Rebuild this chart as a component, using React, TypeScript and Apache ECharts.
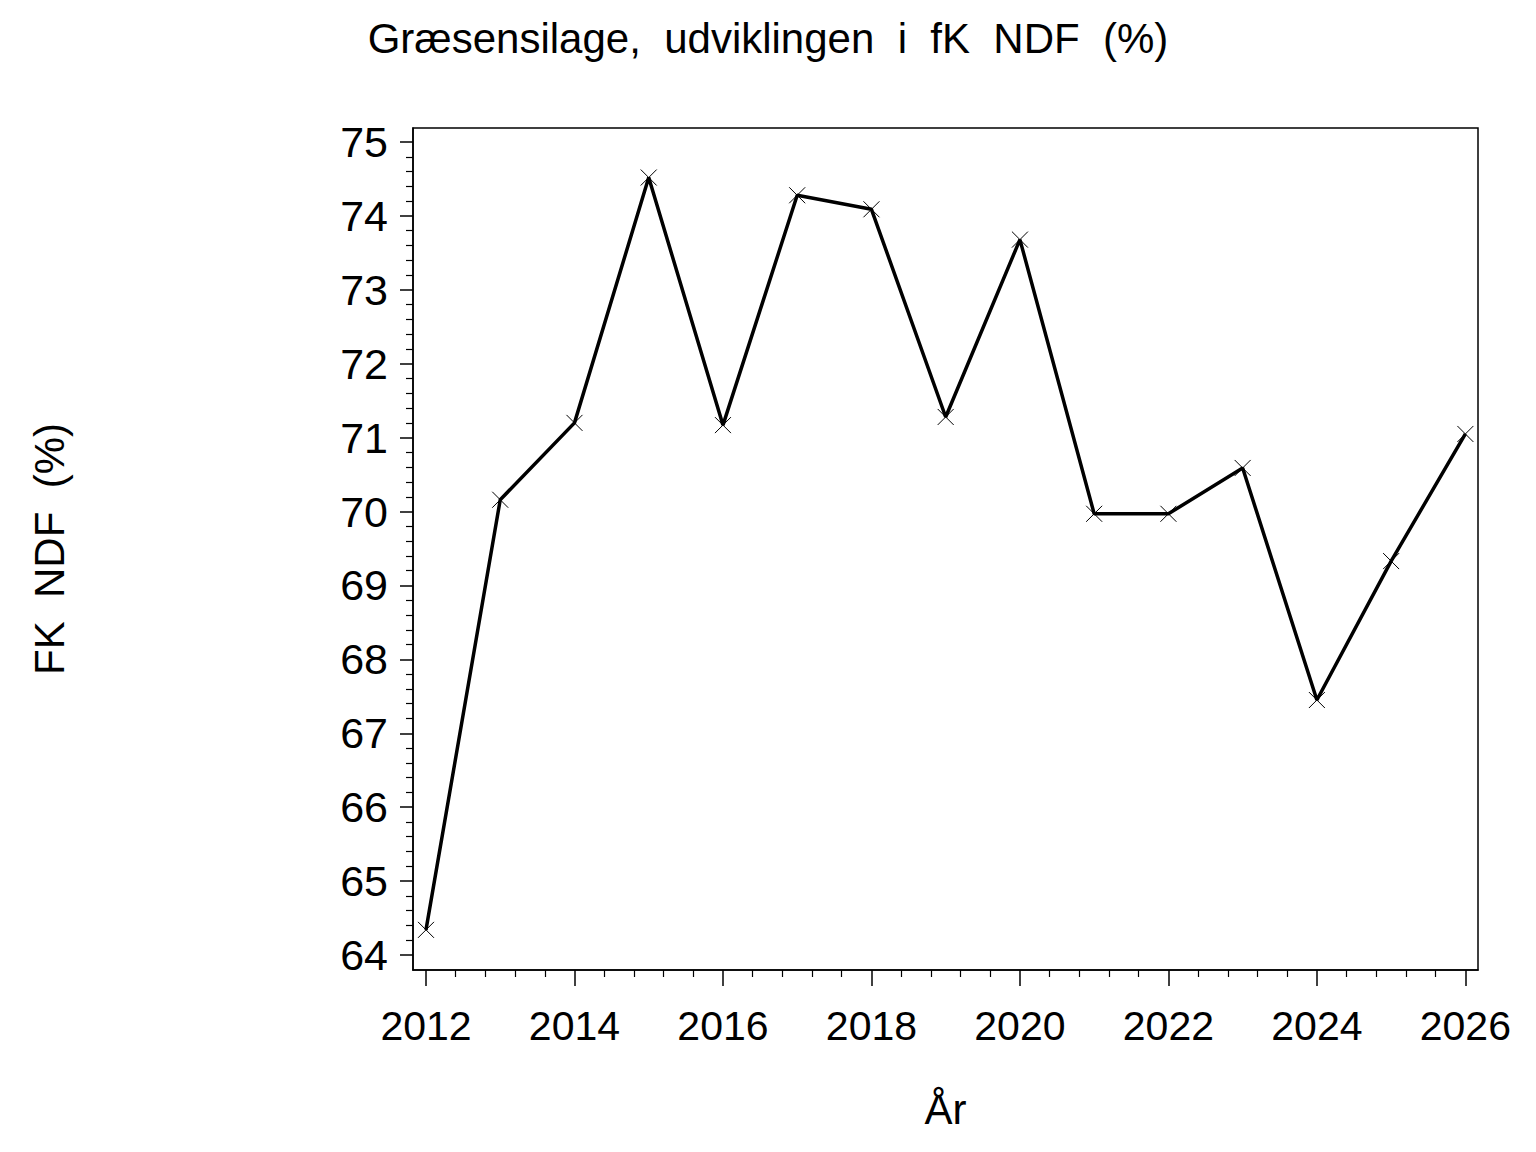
import React, { useEffect, useRef } from "react";
import * as echarts from "echarts";

const years = [2012, 2013, 2014, 2015, 2016, 2017, 2018, 2019, 2020, 2021, 2022, 2023, 2024, 2025, 2026];
const ndf = [64.34, 70.16, 71.2, 74.52, 71.17, 74.28, 74.09, 71.28, 73.68, 69.97, 69.97, 70.59, 67.45, 69.33, 71.05];
const xMajorTicks = [2012, 2014, 2016, 2018, 2020, 2022, 2024, 2026];
const yMajorTicks = [64, 65, 66, 67, 68, 69, 70, 71, 72, 73, 74, 75];

const titleText = "Græsensilage,  udviklingen  i  fK  NDF  (%)";
const yName = "FK  NDF  (%)";
const xName = "År";

function minorBetween(ticks: number[], parts: number): number[] {
  const out: number[] = [];
  for (let i = 0; i < ticks.length - 1; i++) {
    const step = (ticks[i + 1] - ticks[i]) / parts;
    for (let k = 1; k < parts; k++) out.push(+(ticks[i] + k * step).toFixed(4));
  }
  return out;
}

export default function App() {
  const ref = useRef<HTMLDivElement>(null);
  useEffect(() => {
    document.body.style.margin = "0";
    const chart = echarts.init(ref.current!, null, { renderer: "svg" });
    const font = "Liberation Sans, Arial, sans-serif";
    const xMin = 2011.825, xMax = 2026.17;
    const yMin = 63.797, yMax = 75.19;
    const xMinor = minorBetween(xMajorTicks, 5);
    const yMinor = minorBetween(yMajorTicks, 5);
    chart.setOption({
      animation: false,
      backgroundColor: "#fff",
      title: {
        text: titleText,
        left: "center",
        top: 12,
        textStyle: { fontFamily: font, fontSize: 42, fontWeight: "normal", color: "#000" },
      },
      grid: {
        left: 413, top: 128, width: 1065, height: 842,
        show: true, borderColor: "#000", borderWidth: 1.5, backgroundColor: "transparent",
      },
      xAxis: [
        {
          type: "value", min: xMin, max: xMax,
          name: xName, nameLocation: "middle", nameGap: 118,
          nameTextStyle: { fontFamily: font, fontSize: 42, color: "#000" },
          axisLine: { show: true, onZero: false, lineStyle: { color: "#000", width: 1.5 } },
          axisTick: { show: true, customValues: xMajorTicks, length: 16, inside: false, lineStyle: { color: "#000", width: 1.5 } },
          axisLabel: { customValues: xMajorTicks, margin: 35, fontFamily: font, fontSize: 41, color: "#000", formatter: (v: number) => String(Math.round(v)) },
          splitLine: { show: false },
        },
        {
          type: "value", min: xMin, max: xMax, position: "bottom",
          axisLine: { show: false, onZero: false },
          axisTick: { show: true, customValues: xMinor, length: 7, inside: false, lineStyle: { color: "#000", width: 1.2 } },
          axisLabel: { show: false },
          splitLine: { show: false },
        },
      ],
      yAxis: [
        {
          type: "value", min: yMin, max: yMax,
          name: yName, nameLocation: "middle", nameGap: 343, nameRotate: 90,
          nameTextStyle: { fontFamily: font, fontSize: 42, color: "#000" },
          axisLine: { show: true, onZero: false, lineStyle: { color: "#000", width: 1.5 } },
          axisTick: { show: true, customValues: yMajorTicks, length: 13, inside: false, lineStyle: { color: "#000", width: 1.5 } },
          axisLabel: { customValues: yMajorTicks, margin: 25, fontFamily: font, fontSize: 43, color: "#000", formatter: (v: number) => String(Math.round(v)) },
          splitLine: { show: false },
        },
        {
          type: "value", min: yMin, max: yMax, position: "left",
          axisLine: { show: false, onZero: false },
          axisTick: { show: true, customValues: yMinor, length: 7, inside: false, lineStyle: { color: "#000", width: 1.2 } },
          axisLabel: { show: false },
          splitLine: { show: false },
        },
      ],
      series: [
        {
          type: "line",
          xAxisIndex: 0, yAxisIndex: 0,
          data: years.map((y, i) => [y, ndf[i]]),
          lineStyle: { color: "#000", width: 3.5 },
          symbol: "path://M0,0L16,16M16,0L0,16",
          symbolSize: 16,
          itemStyle: { color: "none", borderColor: "#000", borderWidth: 1 },
          showSymbol: true,
          z: 3,
        },
      ],
    });
    return () => chart.dispose();
  }, []);
  return <div ref={ref} style={{ width: 1536, height: 1152 }} />;
}
